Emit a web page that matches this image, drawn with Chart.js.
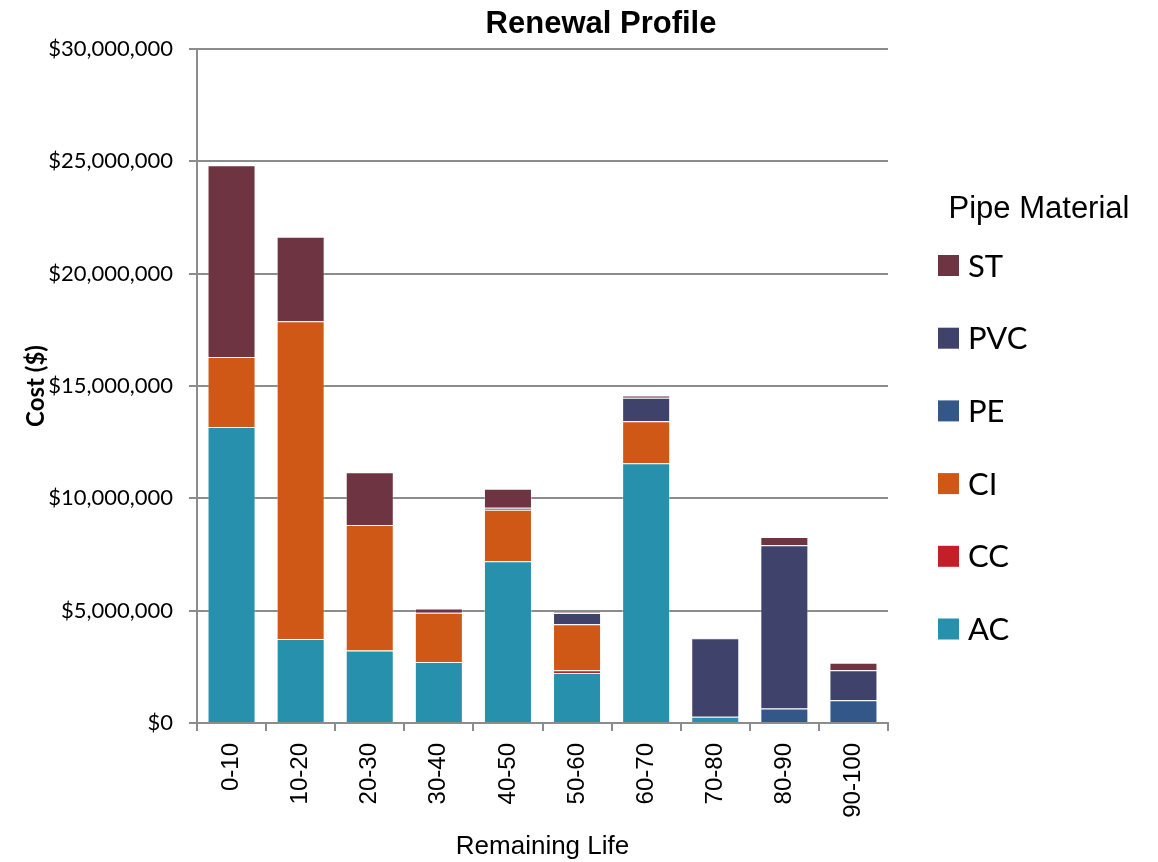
<!DOCTYPE html>
<html>
<head>
<meta charset="utf-8">
<title>Renewal Profile</title>
<script src="https://cdn.jsdelivr.net/npm/chart.js@4"></script>
<style>
    html, body { margin: 0; padding: 0; background: #ffffff; }
    #wrap { width: 1158px; height: 862px; }
</style>
</head>
<body>
<div id="wrap"><canvas id="renewalChart" width="1158" height="862"></canvas></div>
<script>
// Remaining life buckets
const categories = ['0-10', '10-20', '20-30', '30-40', '40-50', '50-60', '60-70', '70-80', '80-90', '90-100'];

// Cost per pipe material ($)
const acCost  = [13170000, 3740000, 3230000, 2710000, 7200000, 2230000, 11560000, 280000, 0, 0];
const ccCost  = [0, 0, 0, 0, 0, 120000, 0, 0, 0, 0];
const ciCost  = [3120000, 14140000, 5580000, 2200000, 2290000, 2040000, 1870000, 0, 0, 0];
const peCost  = [0, 0, 0, 0, 0, 0, 0, 0, 650000, 1010000];
const pvcCost = [0, 0, 0, 0, 90000, 510000, 1050000, 3490000, 7260000, 1340000];
const stCost  = [8540000, 3760000, 2350000, 190000, 850000, 30000, 100000, 20000, 370000, 330000];

// Axis ticks
const yTicks = [0, 5000000, 10000000, 15000000, 20000000, 25000000, 30000000];

const gridGrey = '#8c8c8c';

// Title + side legend drawn on the canvas (Excel style layout)
const sidePanel = {
    id: 'sidePanel',
    afterDraw(chart) {
        const ctx = chart.ctx;
        ctx.save();
        ctx.fillStyle = '#000';

        // chart title
        ctx.font = 'bold 31px "Liberation Sans", Arial, sans-serif';
        ctx.textAlign = 'center';
        ctx.textBaseline = 'alphabetic';
        ctx.fillText('Renewal Profile', 601, 33);

        // legend title
        ctx.font = '31px "Liberation Sans", Arial, sans-serif';
        ctx.fillText('Pipe Material', 1039, 218);

        // legend items, top of stack first
        const sets = chart.data.datasets.slice().reverse();
        ctx.textAlign = 'left';
        ctx.textBaseline = 'middle';
        ctx.font = '31px Lato, "Open Sans", sans-serif';
        sets.forEach((ds, i) => {
            const cy = 265.5 + i * 72.7;
            ctx.fillStyle = ds.backgroundColor;
            ctx.fillRect(938, cy - 10.5, 21, 21);
            ctx.fillStyle = '#000';
            ctx.fillText(ds.label, 968, cy + 1);
        });
        ctx.restore();
    }
};

function makeSet(label, data, color) {
    return {
        label: label,
        data: data,
        backgroundColor: color,
        borderColor: 'rgba(255,255,255,0.35)',
        borderWidth: 1,
        categoryPercentage: 1.0,
        barPercentage: 0.695
    };
}

const ctx = document.getElementById('renewalChart').getContext('2d');
new Chart(ctx, {
    type: 'bar',
    data: {
        labels: categories,
        datasets: [
            makeSet('AC', acCost, '#2790ac'),
            makeSet('CC', ccCost, '#c41e27'),
            makeSet('CI', ciCost, '#d05816'),
            makeSet('PE', peCost, '#335789'),
            makeSet('PVC', pvcCost, '#3f426a'),
            makeSet('ST', stCost, '#6e3441')
        ]
    },
    options: {
        responsive: false,
        animation: false,
        devicePixelRatio: 1,
        layout: { padding: { top: 49, right: 270, bottom: 0, left: 0 } },
        plugins: {
            legend: { display: false },
            title: { display: false },
            tooltip: { enabled: false }
        },
        scales: {
            x: {
                stacked: true,
                afterFit: (scale) => { scale.height = 139; },
                grid: {
                    display: true,
                    drawOnChartArea: false,
                    drawTicks: true,
                    tickLength: 8,
                    color: gridGrey,
                    lineWidth: 2
                },
                border: { display: true, color: gridGrey, width: 2 },
                ticks: {
                    minRotation: 90,
                    maxRotation: 90,
                    padding: 12,
                    color: '#000',
                    font: { family: '"Liberation Sans", Arial, sans-serif', size: 24 }
                },
                title: {
                    display: true,
                    text: 'Remaining Life',
                    color: '#000',
                    padding: { top: 0, bottom: 0 },
                    font: { family: '"Liberation Sans", Arial, sans-serif', size: 26 }
                }
            },
            y: {
                stacked: true,
                min: 0,
                max: 30000000,
                afterFit: (scale) => { scale.width = 197; },
                afterBuildTicks: (scale) => { scale.ticks = yTicks.map(v => ({ value: v })); },
                grid: {
                    color: gridGrey,
                    lineWidth: 2,
                    drawTicks: true,
                    tickLength: 8
                },
                border: { display: true, color: gridGrey, width: 2 },
                ticks: {
                    padding: 16,
                    color: '#000',
                    font: { family: 'Lato, "Open Sans", sans-serif', size: 22 },
                    callback: (v) => '$' + Number(v).toLocaleString('en-US')
                },
                title: {
                    display: true,
                    text: 'Cost ($)',
                    color: '#000',
                    padding: { top: 22, bottom: 0 },
                    font: { family: 'Lato, "Open Sans", sans-serif', size: 24, weight: 'bold' }
                }
            }
        }
    },
    plugins: [sidePanel]
});
</script>
</body>
</html>
